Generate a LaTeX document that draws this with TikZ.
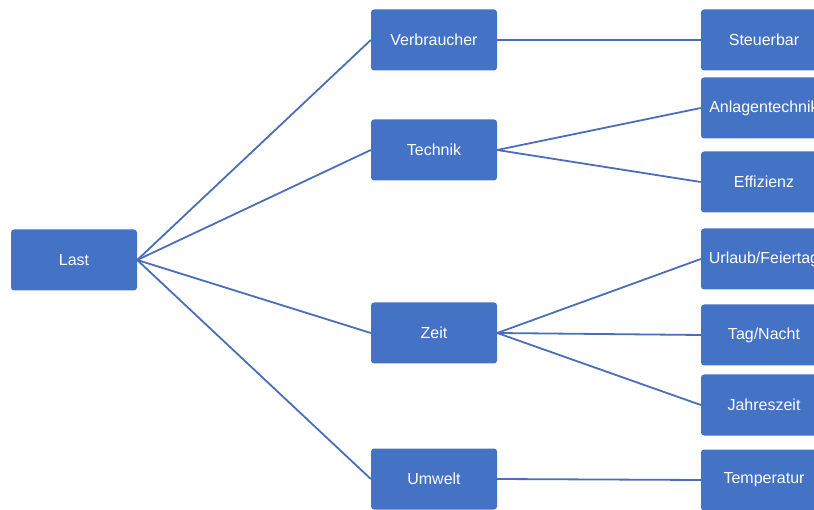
\documentclass[tikz,border=0pt]{standalone}
\usepackage{fontspec}
\setmainfont{Liberation Sans}
\definecolor{boxblue}{HTML}{4472C4}
\definecolor{lineblue}{HTML}{4A6FB8}
\begin{document}
\begin{tikzpicture}[x=1pt,y=-1pt,
  box/.style={draw=none,fill=boxblue,rounded corners=3pt,minimum width=126pt,minimum height=61pt,inner sep=0pt,text=white,font=\fontsize{16}{18}\selectfont},
  conn/.style={draw=lineblue,line width=1.8pt}]
\useasboundingbox (0,0) rectangle (814,510);
\clip (0,0) rectangle (814,510);
\node[box] (last) at (74,260) {Last};
\node[box] (verb) at (434,40) {Verbraucher};
\node[box] (tech) at (434,150) {Technik};
\node[box] (zeit) at (434,333) {Zeit};
\node[box] (umw) at (434,479) {Umwelt};
\node[box] (steu) at (764,40) {Steuerbar};
\node[box] (anl) at (764,108) {Anlagentechnik};
\node[box] (eff) at (764,182) {Effizienz};
\node[box] (url) at (764,259) {Urlaub/Feiertag};
\node[box] (tag) at (764,335) {Tag/Nacht};
\node[box] (jah) at (764,405) {Jahreszeit};
\node[box] (temp) at (764,480) {Temperatur};
\foreach \t in {verb,tech,zeit,umw}
  \draw[conn] (last.east) -- (\t.west);
\draw[conn] (verb.east) -- (steu.west);
\draw[conn] (tech.east) -- (anl.west);
\draw[conn] (tech.east) -- (eff.west);
\draw[conn] (zeit.east) -- (url.west);
\draw[conn] (zeit.east) -- (tag.west);
\draw[conn] (zeit.east) -- (jah.west);
\draw[conn] (umw.east) -- (temp.west);
\end{tikzpicture}
\end{document}
